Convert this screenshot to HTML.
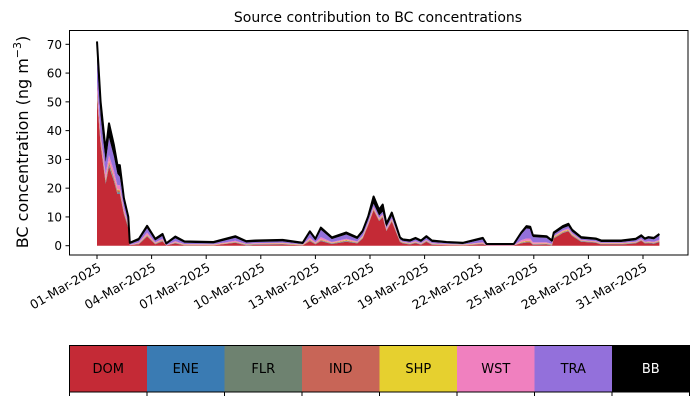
<!DOCTYPE html>
<html><head><meta charset="utf-8"><style>
body{margin:0;background:#fff}
svg text{font-family:"DejaVu Sans","Liberation Sans",sans-serif}
</style></head><body>
<svg id="chart" width="698" height="402" xmlns="http://www.w3.org/2000/svg">
<text x="378" y="22" font-size="14" text-anchor="middle">Source contribution to BC concentrations</text>
<g id="areas"></g>
<g id="yaxis"></g>
<g id="xaxis"></g>
<rect x="69.5" y="30.5" width="618.5" height="224.5" fill="none" stroke="#000" stroke-width="1"/>
<text transform="translate(28,142) rotate(-90)" font-size="16" text-anchor="middle">BC concentration (ng m<tspan dy="-7" font-size="11">−3</tspan><tspan dy="7">)</tspan></text>
<g id="legend"></g>
</svg>
<script>
const days=[0,0.2,0.48,0.66,0.93,1.12,1.25,1.48,1.72,1.8,2.3,2.75,3.2,3.6,3.8,4.3,4.8,6.4,7.6,8.2,8.7,10.2,11.3,11.7,12,12.3,12.9,13.7,14.3,14.6,14.9,15.2,15.5,15.7,15.9,16.2,16.65,16.8,17.2,17.5,17.8,18.1,18.4,19.2,20.1,21.2,21.4,22.9,23.3,23.6,23.8,23.95,24.7,25,25.1,25.6,25.9,26.1,26.6,27.4,27.7,28.8,29.6,29.9,30.1,30.3,30.6,30.9];
const DOM=[51.5,35,21.5,27.5,22.5,18,18.1,11,6.1,0.2,0.5,3.2,0.5,1.5,0.1,0.8,0.1,0.1,1,0.1,0.3,0.4,0.1,1.6,0.5,1.6,0.6,1.4,0.8,2.5,7.1,12.3,8.6,9.9,5.1,8.4,1.3,0.8,0.4,0.9,0.3,1.4,0.3,0.2,0.1,0.5,0.1,0.1,0.8,1.1,1.1,0.3,0.4,0.1,2.5,4.4,5,3.4,1.4,1,0.4,0.4,0.8,1.7,0.8,0.9,0.7,1.3];
const ENE=[0.5,0.4,0.3,0.4,0.3,0.3,0.3,0.2,0.2,0,0.1,0.1,0.1,0.1,0,0.1,0,0,0.1,0.1,0.1,0.1,0,0.1,0.1,0.1,0.1,0.1,0.1,0.1,0.1,0.1,0.1,0.1,0.1,0.1,0.1,0.1,0.1,0.1,0.1,0.1,0.1,0,0,0.1,0,0,0.1,0.1,0.1,0.1,0.1,0.1,0.1,0.1,0.1,0.1,0.1,0.1,0.1,0.1,0.1,0.1,0.1,0.1,0.1,0.1];
const FLR=[0.5,0.4,0.3,0.4,0.3,0.3,0.3,0.2,0.2,0,0.1,0.1,0.1,0.1,0,0.1,0.1,0,0.1,0.1,0.1,0.1,0,0.1,0.1,0.1,0.1,0.1,0.1,0.1,0.1,0.1,0.1,0.1,0.1,0.1,0.1,0.1,0.1,0.1,0.1,0.1,0.1,0,0,0.1,0,0,0.1,0.1,0.1,0.1,0.1,0.1,0.1,0.1,0.1,0.1,0.1,0.1,0.1,0.1,0.1,0.1,0.1,0.1,0.1,0.1];
const IND=[1,0.8,0.6,0.8,0.6,0.6,0.5,0.4,0.3,0,0.1,0.2,0.1,0.2,0,0.1,0.1,0.1,0.1,0.1,0.1,0.1,0.1,0.2,0.1,0.2,0.1,0.2,0.1,0.2,0.2,0.3,0.2,0.2,0.2,0.2,0.1,0.1,0.1,0.1,0.1,0.1,0.1,0.1,0.1,0.1,0,0,0.1,0.2,0.2,0.1,0.1,0.1,0.2,0.2,0.2,0.2,0.1,0.1,0.1,0.1,0.1,0.1,0.1,0.1,0.1,0.1];
const SHP=[0.5,0.4,0.3,0.4,0.3,0.3,0.3,0.2,0.2,0,0.1,0.2,0.1,0.1,0,0.1,0.1,0.1,0.1,0.1,0.1,0.1,0.1,0.2,0.1,0.2,0.1,0.2,0.1,0.2,0.2,0.2,0.2,0.2,0.1,0.2,0.1,0.1,0.1,0.1,0.1,0.1,0.1,0.1,0.1,0.1,0,0,0.2,0.2,0.2,0.1,0.1,0.1,0.2,0.2,0.2,0.2,0.1,0.1,0.1,0.1,0.1,0.1,0.1,0.1,0.1,0.1];
const WST=[3,2,2,2,2,1.5,1.5,1,0.5,0.1,0.3,0.8,0.3,0.4,0.1,0.4,0.2,0.2,0.3,0.2,0.2,0.2,0.1,0.6,0.3,0.8,0.3,0.4,0.3,0.4,0.5,0.6,0.5,0.5,0.4,0.5,0.2,0.2,0.2,0.3,0.2,0.3,0.2,0.2,0.1,0.3,0.1,0.1,0.6,0.8,0.8,0.5,0.4,0.2,0.3,0.4,0.4,0.3,0.2,0.2,0.2,0.2,0.2,0.3,0.2,0.3,0.3,0.4];
const TRA=[8,6,4,6,5,4,3,2,1.5,0.3,0.6,1.5,0.6,1,0.2,1,0.4,0.3,1,0.4,0.4,0.5,0.2,1.5,0.6,2.5,1,1.5,0.8,1,1,1,0.8,0.8,0.6,0.8,0.4,0.3,0.4,0.6,0.4,0.6,0.4,0.3,0.2,1,0.1,0.1,2,3.5,3.3,1.8,1.5,0.6,0.6,0.7,0.8,0.6,0.4,0.4,0.3,0.3,0.5,0.6,0.6,0.9,0.8,1.4];
const BB=[6,5,4,5,4,3,4,1.5,1,0.4,0.6,0.8,0.6,0.7,0.4,0.6,0.5,0.5,0.6,0.5,0.5,0.5,0.4,0.7,0.6,0.8,0.6,0.7,0.6,0.7,1,2.5,2,2.5,1,1.2,0.6,0.5,0.5,0.5,0.5,0.6,0.5,0.4,0.4,0.5,0.3,0.3,0.6,0.8,0.8,0.6,0.6,0.5,0.6,0.7,0.8,0.7,0.6,0.5,0.5,0.5,0.5,0.6,0.5,0.5,0.5,0.6];
const seriesNames=["DOM","ENE","FLR","IND","SHP","WST","TRA","BB"];
const seriesColors=["#c42a36","#3a7bb3","#6e8270","#c86557","#e6d02f","#f080bf","#9370db","#000000"];
const yTicks=[0,10,20,30,40,50,60,70];
const xTickDays=[0,3,6,9,12,15,18,21,24,27,30];
const xTickLabels=["01-Mar-2025","04-Mar-2025","07-Mar-2025","10-Mar-2025","13-Mar-2025","16-Mar-2025","19-Mar-2025","22-Mar-2025","25-Mar-2025","28-Mar-2025","31-Mar-2025"];

const NS="http://www.w3.org/2000/svg";
const X=d=>97+d*18.2;
const Y=v=>245.7-v*2.877;
function mk(t,a,p){const e=document.createElementNS(NS,t);for(const k in a)e.setAttribute(k,a[k]);p.appendChild(e);return e;}
const series=[DOM,ENE,FLR,IND,SHP,WST,TRA,BB];
const areas=document.getElementById('areas');
let base=days.map(()=>0);
series.forEach((s,i)=>{
  const top=base.map((b,j)=>b+s[j]);
  let d="M"+days.map((t,j)=>X(t).toFixed(1)+","+Y(top[j]).toFixed(1)).join("L");
  for(let j=days.length-1;j>=0;j--)d+="L"+X(days[j]).toFixed(1)+","+Y(base[j]).toFixed(1);
  const p=mk('path',{d:d+"Z",fill:seriesColors[i]},areas);
  
  
  base=top;
});
const line=mk('path',{d:"M"+days.map((t,j)=>X(t).toFixed(1)+","+Y(base[j]).toFixed(1)).join("L"),fill:"none",stroke:"#000","stroke-width":2,"stroke-linejoin":"round"},areas);



const ya=document.getElementById('yaxis');
yTicks.forEach(v=>{
  mk('line',{x1:65.5,x2:69.5,y1:Y(v),y2:Y(v),stroke:"#000"},ya);
  const t=mk('text',{x:62,y:Y(v)+4.5,"font-size":12,"text-anchor":"end"},ya);
  t.textContent=v;
  
  
});
const xa=document.getElementById('xaxis');
xTickDays.forEach((d,i)=>{
  mk('line',{x1:X(d),x2:X(d),y1:255,y2:259,stroke:"#000"},xa);
  const t=mk('text',{transform:`translate(${X(d)+5},${270}) rotate(-30)`,"font-size":12.5,"text-anchor":"end"},xa);
  t.textContent=xTickLabels[i];
  
  
});
const lg=document.getElementById('legend');
const lx=69.5,lw=620/8;
seriesNames.forEach((n,i)=>{
  const r=mk('rect',{x:lx+i*lw,y:345.5,width:lw,height:46.5,fill:seriesColors[i]},lg);
  
  
  const t=mk('text',{x:lx+i*lw+lw/2,y:373,"font-size":13,"text-anchor":"middle",fill:n==="BB"?"#fff":"#000"},lg);
  t.textContent=n;
  
  
});
mk('rect',{x:lx,y:345.5,width:620,height:46.5,fill:"none",stroke:"#000"},lg);
for(let i=0;i<=8;i++)mk('line',{x1:lx+i*lw,x2:lx+i*lw,y1:392,y2:396,stroke:"#000"},lg);
</script>
</body></html>
